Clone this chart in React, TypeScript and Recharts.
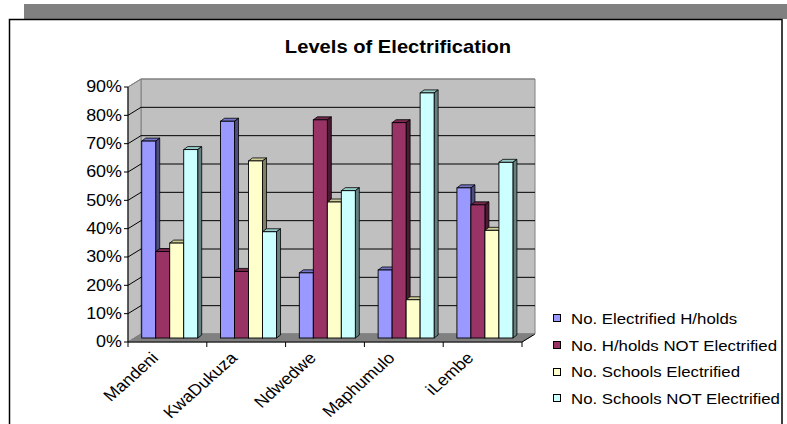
import { BarChart, Bar, XAxis, YAxis, CartesianGrid, Legend } from 'recharts'

const municipalities = ['Mandeni', 'KwaDukuza', 'Ndwedwe', 'Maphumulo', 'iLembe']
const electrifiedHouseholds = [69.5, 76.5, 23, 24, 53]
const householdsNotElectrified = [30.5, 23.5, 77, 76, 47]
const schoolsElectrified = [33.5, 62.5, 48, 13.5, 38]
const schoolsNotElectrified = [66.5, 37.5, 52, 86.5, 62]
const percentTicks = [0, 10, 20, 30, 40, 50, 60, 70, 80, 90]

const series = [
  { key: 'hhYes', name: 'No. Electrified H/holds', values: electrifiedHouseholds },
  { key: 'hhNo', name: 'No. H/holds NOT Electrified', values: householdsNotElectrified },
  { key: 'schYes', name: 'No. Schools Electrified', values: schoolsElectrified },
  { key: 'schNo', name: 'No. Schools NOT Electrified', values: schoolsNotElectrified },
]

// front / top / side shades for the 3D columns
const shades: Record<string, { front: string; top: string; side: string }> = {
  hhYes: { front: '#9999ff', top: '#7676c8', side: '#4d4d80' },
  hhNo: { front: '#993366', top: '#772850', side: '#4d1a33' },
  schYes: { front: '#ffffcc', top: '#cccc99', side: '#808066' },
  schNo: { front: '#ccffff', top: '#99cccc', side: '#668080' },
}

const data = municipalities.map((name, i) => {
  const row: Record<string, string | number> = { name }
  series.forEach(s => (row[s.key] = s.values[i]))
  return row
})

const W = 787
const H = 424
// front plane of the plot
const PLOT_L = 128
const PLOT_R = 522
const PLOT_T = 87
const PLOT_B = 342
// depth of the walls
const WALL_DX = 13
const WALL_DY = 8
// columns sit part way back, with their own small depth
const BAR_DX = 3
const BAR_DY = -4
const COL_DX = 4
const COL_DY = 3
const BAND = (PLOT_R - PLOT_L) / municipalities.length
const STRETCH = 1.12
const FONT = '"Liberation Sans", Arial, sans-serif'

const Column = (props: any) => {
  const { x, y, width, height, seriesKey } = props
  if (height == null || width == null) return null
  const c = shades[seriesKey]
  const fx = x + BAR_DX
  const fy = y + BAR_DY
  const top = `${fx},${fy} ${fx + COL_DX},${fy - COL_DY} ${fx + width + COL_DX},${fy - COL_DY} ${fx + width},${fy}`
  const side = `${fx + width},${fy} ${fx + width + COL_DX},${fy - COL_DY} ${fx + width + COL_DX},${fy + height - COL_DY} ${fx + width},${fy + height}`
  return (
    <g>
      <polygon points={top} fill={c.top} stroke="#000" strokeWidth={0.8} />
      <polygon points={side} fill={c.side} stroke="#000" strokeWidth={0.8} />
      <rect x={fx} y={fy} width={width} height={height} fill={c.front} stroke="#000" strokeWidth={0.9} />
    </g>
  )
}

// grid lines run along the back wall and diagonally across the side wall
const WallLine = (props: any) => {
  const { x1, x2, y1 } = props
  const edge = Math.abs(y1 - PLOT_T) < 1 || Math.abs(y1 - PLOT_B) < 1
  const stroke = edge ? '#808080' : '#000'
  return (
    <g key={props.key}>
      <line x1={x1} y1={y1} x2={x1 + WALL_DX} y2={y1 - WALL_DY} stroke={stroke} strokeWidth={1} />
      <line x1={x1 + WALL_DX} y1={y1 - WALL_DY} x2={x2 + WALL_DX} y2={y1 - WALL_DY} stroke={stroke} strokeWidth={1} />
    </g>
  )
}

const YTick = ({ x, y, payload }: any) => (
  <text
    transform={`translate(${x},${y}) scale(${STRETCH},1)`}
    textAnchor="end"
    dominantBaseline="central"
    fontSize={16}
    fontFamily={FONT}
    fill="#000"
  >
    {payload.value}%
  </text>
)

const XTick = ({ x, y, payload, index }: any) => (
  <g>
    <line x1={x - BAND / 2} x2={x - BAND / 2} y1={y} y2={y + 5} stroke="#000" />
    {index === municipalities.length - 1 && (
      <line x1={x + BAND / 2} x2={x + BAND / 2} y1={y} y2={y + 5} stroke="#000" />
    )}
    <text
      transform={`translate(${x - 8},${y + 17}) scale(${STRETCH},1) rotate(-45)`}
      textAnchor="end"
      fontSize={16}
      fontFamily={FONT}
      fill="#000"
    >
      {payload.value}
    </text>
  </g>
)

const LegendBox = ({ payload }: any) => (
  <div style={{ fontFamily: FONT, fontSize: 15, color: '#000' }}>
    {(payload || []).map((p: any) => (
      <div key={p.value} style={{ height: 26.7, display: 'flex', alignItems: 'center' }}>
        <span
          style={{
            width: 6,
            height: 6,
            border: '1px solid #000',
            background: p.color,
            marginRight: 10,
            flex: 'none',
          }}
        />
        <span
          style={{
            display: 'inline-block',
            whiteSpace: 'nowrap',
            transform: `scaleX(${STRETCH})`,
            transformOrigin: 'left center',
          }}
        >
          {p.value}
        </span>
      </div>
    ))}
  </div>
)

export default function App() {
  const backL = PLOT_L + WALL_DX
  const backR = PLOT_R + WALL_DX
  const backT = PLOT_T - WALL_DY
  const backB = PLOT_B - WALL_DY
  return (
    <div style={{ position: 'absolute', left: 0, top: 0, width: W, height: H, background: '#fff', overflow: 'hidden' }}>
      <svg width={W} height={H} style={{ position: 'absolute', left: 0, top: 0 }}>
        {/* frame */}
        <rect x={24} y={4} width={W - 24} height={15} fill="#808080" />
        <rect x={9.5} y={19.5} width={772.5} height={H} fill="#fff" stroke="#000" strokeWidth={1.5} />
        <text
          transform={`translate(398,52.5) scale(${STRETCH},1)`}
          textAnchor="middle"
          fontSize={18}
          fontWeight="bold"
          fontFamily={FONT}
          fill="#000"
        >
          Levels of Electrification
        </text>
        {/* walls and floor */}
        <polygon
          points={`${backL},${backT} ${backR},${backT} ${backR},${backB} ${backL},${backB}`}
          fill="#c0c0c0"
          stroke="#808080"
        />
        <polygon
          points={`${PLOT_L},${PLOT_T} ${backL},${backT} ${backL},${backB} ${PLOT_L},${PLOT_B}`}
          fill="#c0c0c0"
          stroke="#808080"
        />
        <polygon
          points={`${PLOT_L},${PLOT_B} ${backL},${backB} ${backR},${backB} ${PLOT_R},${PLOT_B}`}
          fill="#808080"
          stroke="#808080"
        />
        <line x1={PLOT_R} y1={PLOT_B} x2={backR} y2={backB} stroke="#000" />
      </svg>
      <BarChart
        width={W}
        height={H}
        data={data}
        margin={{ top: PLOT_T, right: 35, bottom: 12, left: 88 }}
        barCategoryGap="13.6%"
        barGap={0}
      >
        <CartesianGrid vertical={false} horizontal={WallLine} />
        <XAxis
          dataKey="name"
          interval={0}
          height={70}
          tickSize={0}
          tickMargin={0}
          axisLine={{ stroke: '#000' }}
          tick={<XTick />}
        />
        <YAxis
          width={40}
          domain={[0, 90]}
          ticks={percentTicks}
          tickSize={4}
          tickMargin={2}
          axisLine={{ stroke: '#000' }}
          tickLine={{ stroke: '#000' }}
          tick={<YTick />}
        />
        <Legend
          layout="vertical"
          align="right"
          verticalAlign="bottom"
          wrapperStyle={{ left: 553, top: 305, width: 230, right: 'auto', bottom: 'auto' }}
          content={<LegendBox />}
        />
        {series.map(s => (
          <Bar
            key={s.key}
            dataKey={s.key}
            name={s.name}
            fill={shades[s.key].front}
            isAnimationActive={false}
            shape={(p: any) => <Column {...p} seriesKey={s.key} />}
          />
        ))}
      </BarChart>
    </div>
  )
}
